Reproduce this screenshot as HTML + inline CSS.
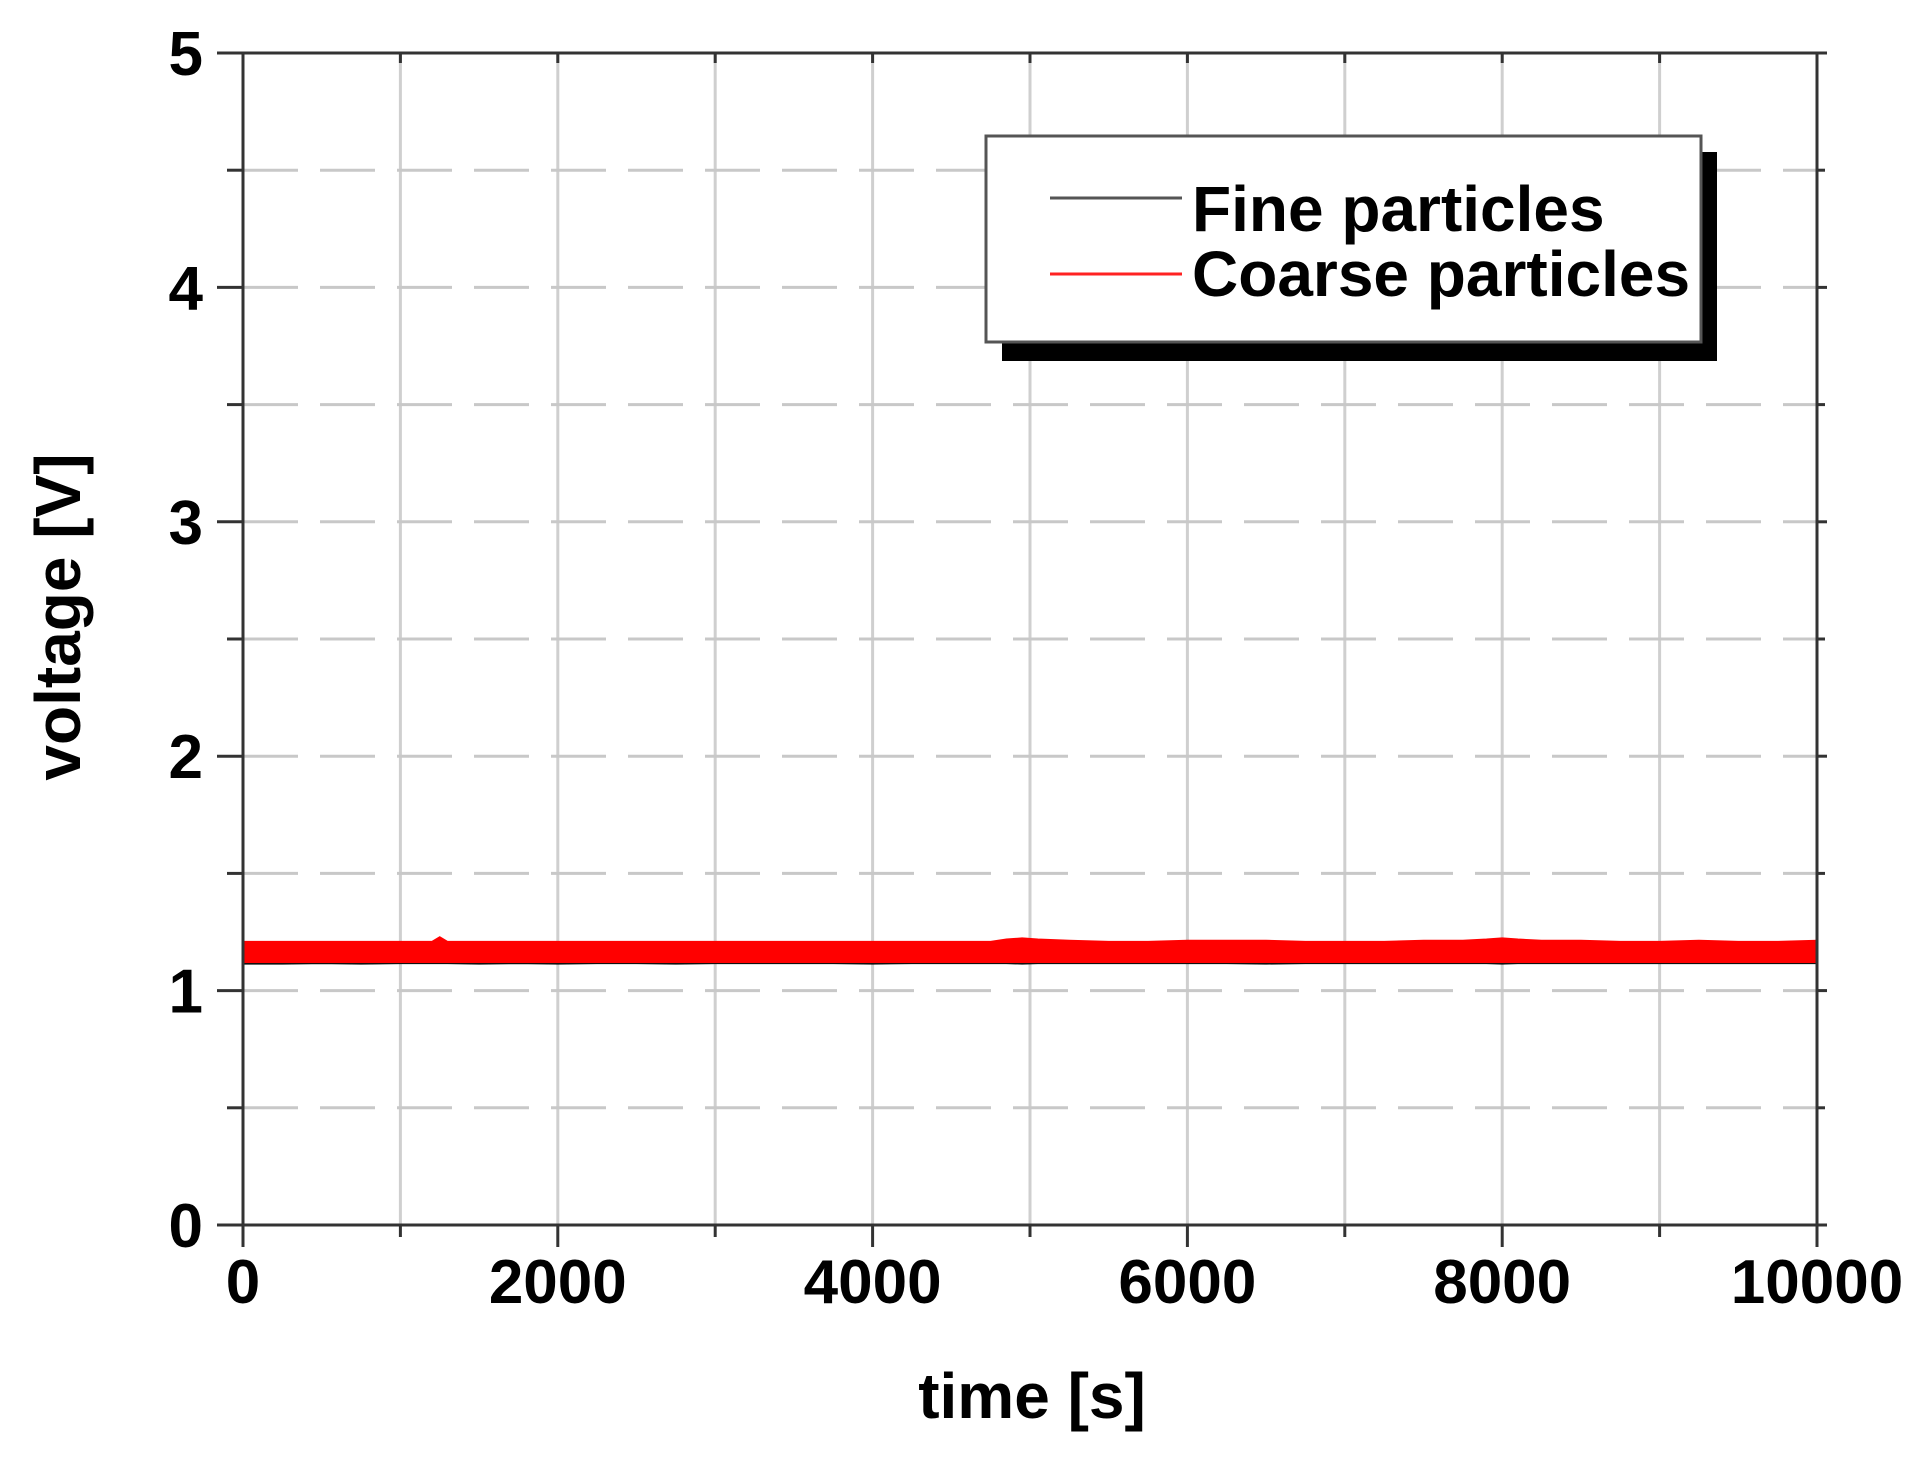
<!DOCTYPE html>
<html><head><meta charset="utf-8"><style>
html,body{margin:0;padding:0;background:#fff;}
svg{display:block;font-family:"Liberation Sans",Arial,sans-serif;font-weight:bold;}
</style></head><body>
<svg id="chart" width="1927" height="1460" viewBox="0 0 1927 1460" xmlns="http://www.w3.org/2000/svg">
<g id="grid"></g>
<g id="series"></g>
<g id="axes"></g>
<g id="legend">
  <rect x="1002" y="152" width="715" height="209" fill="#000"/>
  <rect x="986" y="136" width="715" height="206" fill="#fff" stroke="#555" stroke-width="3"/>
  <line x1="1050" y1="198" x2="1182" y2="198" stroke="#555" stroke-width="3"/>
  <text x="1192" y="231" font-size="64">Fine particles</text>
  <line x1="1050" y1="274" x2="1182" y2="274" stroke="#f22" stroke-width="3"/>
  <text x="1192" y="296" font-size="64">Coarse particles</text>
</g>
<text x="1032" y="1418" font-size="64" text-anchor="middle">time [s]</text>
<text transform="translate(80,617) rotate(-90)" font-size="64" text-anchor="middle">voltage [V]</text>
</svg>
<script>
const xTicks = [0, 2000, 4000, 6000, 8000, 10000];
const yTicks = [0, 1, 2, 3, 4, 5];
const sampleTimes = [0,100,250,500,750,1000,1200,1250,1300,1500,1750,2000,2250,2500,2750,3000,3250,3500,3750,4000,4250,4500,4750,4850,4950,5050,5250,5500,5750,6000,6250,6500,6750,7000,7250,7500,7750,7900,8000,8100,8250,8500,8750,9000,9250,9500,9750,10000];
const coarseHigh = [1.21,1.21,1.21,1.21,1.21,1.21,1.21,1.23,1.21,1.21,1.21,1.21,1.21,1.21,1.21,1.21,1.21,1.21,1.21,1.21,1.21,1.21,1.21,1.22,1.225,1.22,1.215,1.21,1.21,1.215,1.215,1.215,1.21,1.21,1.21,1.215,1.215,1.22,1.225,1.22,1.215,1.215,1.21,1.21,1.215,1.21,1.21,1.215];
const coarseLow = [1.12,1.12,1.12,1.12,1.12,1.12,1.12,1.12,1.12,1.12,1.12,1.12,1.12,1.12,1.12,1.12,1.12,1.12,1.12,1.12,1.12,1.12,1.12,1.12,1.12,1.12,1.12,1.12,1.12,1.12,1.12,1.12,1.12,1.12,1.12,1.12,1.12,1.12,1.12,1.12,1.12,1.12,1.12,1.12,1.12,1.12,1.12,1.12];
const fineHigh = [1.15,1.15,1.15,1.15,1.15,1.15,1.15,1.15,1.15,1.15,1.15,1.15,1.15,1.15,1.15,1.15,1.15,1.15,1.15,1.15,1.15,1.15,1.15,1.15,1.15,1.15,1.15,1.15,1.15,1.15,1.15,1.15,1.15,1.15,1.15,1.15,1.15,1.15,1.15,1.15,1.15,1.15,1.15,1.15,1.15,1.15,1.15,1.15];
const fineLow = [1.113,1.113,1.113,1.115,1.113,1.115,1.115,1.115,1.115,1.113,1.115,1.113,1.115,1.115,1.113,1.115,1.115,1.115,1.115,1.113,1.115,1.115,1.115,1.115,1.113,1.115,1.115,1.115,1.115,1.115,1.115,1.113,1.115,1.115,1.115,1.115,1.115,1.115,1.113,1.115,1.115,1.115,1.115,1.115,1.115,1.115,1.115,1.115];

const L=243,R=1817,T=53,B=1225;
const xS=v=>L+(v/10000)*(R-L);
const yS=v=>B-(v/5)*(B-T);
const NS="http://www.w3.org/2000/svg";
function mk(tag,attrs,parent){const e=document.createElementNS(NS,tag);for(const k in attrs)e.setAttribute(k,attrs[k]);parent.appendChild(e);return e;}
const grid=document.getElementById('grid'),axes=document.getElementById('axes'),series=document.getElementById('series');
for(let v=1000;v<10000;v+=1000){
  const g=mk('line',{x1:xS(v),x2:xS(v),y1:T,y2:B,stroke:'#cfcfcf','stroke-width':3},grid);
  
  
}
for(let v=0.5;v<5;v+=0.5){
  const g=mk('line',{x1:L,x2:R,y1:yS(v),y2:yS(v),stroke:'#c8c8c8','stroke-width':3,'stroke-dasharray':'55 22'},grid);
  
  
}
function band(hi,lo,color,name){
  let d='M'+sampleTimes.map((t,i)=>xS(t)+','+yS(hi[i])).join(' L');
  for(let i=sampleTimes.length-1;i>=0;i--)d+=' L'+xS(sampleTimes[i])+','+yS(lo[i]);
  d+='Z';
  const p=mk('path',{d:d,fill:color,stroke:color,'stroke-width':1},series);
  
  
}
band(fineHigh,fineLow,'#111','series-fine');
band(coarseHigh,coarseLow,'#ff0000','series-coarse');
const fr=mk('rect',{x:L,y:T,width:R-L,height:B-T,fill:'none',stroke:'#333','stroke-width':3},axes);


for(let v=0;v<=5;v+=0.5){
  const major=Number.isInteger(v);
  const t=mk('line',{x1:L-(major?26:16),x2:L,y1:yS(v),y2:yS(v),stroke:'#333','stroke-width':3},axes);
  
  
  const t2=mk('line',{x1:R,x2:R+(major?10:8),y1:yS(v),y2:yS(v),stroke:'#333','stroke-width':3},axes);
  
  
}
yTicks.forEach(v=>{
  const tx=mk('text',{x:203,y:yS(v)+22,'font-size':62,'text-anchor':'end'},axes);
  tx.textContent=v;
  
  
});
for(let v=0;v<=10000;v+=1000){
  const major=v%2000===0;
  const t=mk('line',{x1:xS(v),x2:xS(v),y1:B,y2:B+(major?22:12),stroke:'#333','stroke-width':3},axes);
  
  
  const t2=mk('line',{x1:xS(v),x2:xS(v),y1:T,y2:T+10,stroke:'#333','stroke-width':3},axes);
  
  
}
xTicks.forEach(v=>{
  const tx=mk('text',{x:xS(v),y:1303,'font-size':62,'text-anchor':'middle'},axes);
  tx.textContent=v;
  
  
});
</script>
</body></html>
